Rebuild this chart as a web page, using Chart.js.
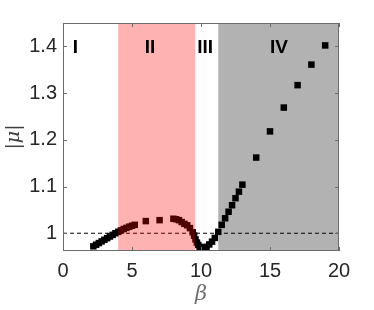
<!DOCTYPE html>
<html>
<head>
<meta charset="utf-8">
<script src="https://cdn.jsdelivr.net/npm/chart.js@4"></script>
<style>
  body { margin: 0; background: #fff; }
  canvas { display: block; }
</style>
</head>
<body>
<canvas id="myChart" width="374" height="310"></canvas>
<script>
// beta values and |mu|
let betaVals = [2.2, 2.4, 2.6, 2.8, 3.0, 3.2, 3.4, 3.6, 3.8, 4.0, 4.2, 4.4, 4.6, 4.8, 5.0, 5.2,
  6, 7, 8.0, 8.2, 8.4, 8.6, 8.8, 9.0, 9.2, 9.4, 9.5, 9.6, 9.7, 9.8, 9.9, 10.0, 10.2, 10.4,
  10.6, 10.8, 11.0, 11.25, 11.5, 11.75, 12, 12.25, 12.5, 12.75, 13, 14, 15, 16, 17, 18, 19];
let muVals = [0.972, 0.9755, 0.979, 0.9825, 0.986, 0.9895, 0.993, 0.9965, 1.0, 1.003, 1.006, 1.009, 1.0115, 1.014, 1.016, 1.018,
  1.026, 1.028, 1.031, 1.030, 1.028, 1.024, 1.020, 1.017, 1.011, 1.002, 0.995, 0.987, 0.98, 0.975, 0.971, 0.969, 0.968, 0.971,
  0.976, 0.982, 0.99, 1.003, 1.018, 1.032, 1.046, 1.06, 1.075, 1.089, 1.104, 1.162, 1.218, 1.269, 1.317, 1.361, 1.402];

// regions I..IV
let regionNames = ["I", "II", "III", "IV"];
let regionEdges = [0, 4, 9.57, 11.25, 20];
let regionLabelX = [0.9, 6.3, 10.3, 15.65];
let regionLabelY = 1.397;

let xTicks = [0, 5, 10, 15, 20];
let yTicks = [1, 1.1, 1.2, 1.3, 1.4];
let refLevel = 1;

let regionFill = [null, "rgba(255,0,0,0.3)", null, "rgba(0,0,0,0.3)"];
let axisColor = "#6b6b6b";

let points = betaVals.map((b, i) => ({ x: b, y: muVals[i] }));

const overlay = {
  id: "overlay",
  afterDatasetsDraw(chart) {
    const ctx = chart.ctx;
    const xs = chart.scales.x, ys = chart.scales.y;
    const a = chart.chartArea;
    ctx.save();
    // shaded regions drawn over the markers (tints them)
    for (let i = 0; i < regionNames.length; i++) {
      if (!regionFill[i]) continue;
      const x0 = xs.getPixelForValue(regionEdges[i]);
      const x1 = xs.getPixelForValue(regionEdges[i + 1]);
      ctx.fillStyle = regionFill[i];
      ctx.fillRect(x0, a.top, x1 - x0, a.bottom - a.top);
    }
    // box and inward ticks
    ctx.strokeStyle = axisColor;
    ctx.lineWidth = 1;
    ctx.strokeRect(a.left + 0.5, a.top + 0.5, a.right - a.left - 1, a.bottom - a.top - 1);
    ctx.beginPath();
    xTicks.forEach(t => {
      const px = Math.round(xs.getPixelForValue(t)) + 0.5;
      ctx.moveTo(px, a.bottom); ctx.lineTo(px, a.bottom - 4);
      ctx.moveTo(px, a.top); ctx.lineTo(px, a.top + 4);
    });
    yTicks.forEach(t => {
      const py = Math.round(ys.getPixelForValue(t)) + 0.5;
      ctx.moveTo(a.left, py); ctx.lineTo(a.left + 4, py);
      ctx.moveTo(a.right, py); ctx.lineTo(a.right - 4, py);
    });
    ctx.stroke();
    // region labels
    ctx.fillStyle = "#000";
    ctx.font = "bold 19px 'Liberation Sans', Arial, sans-serif";
    ctx.textAlign = "center";
    ctx.textBaseline = "middle";
    regionNames.forEach((n, i) => {
      ctx.fillText(n, xs.getPixelForValue(regionLabelX[i]), ys.getPixelForValue(regionLabelY));
    });
    ctx.restore();
  }
};

let chart = new Chart("myChart", {
  type: "scatter",
  data: {
    datasets: [{
      data: points,
      pointStyle: "rect",
      pointRadius: 4.6,
      pointBorderWidth: 0,
      backgroundColor: "#000",
      borderColor: "#000"
    },
    {
      type: "line",
      data: [{ x: 0, y: refLevel }, { x: 20, y: refLevel }],
      borderColor: "#000",
      borderWidth: 1,
      borderDash: [4, 3],
      pointRadius: 0,
      fill: false
    }]
  },
  options: {
    responsive: false,
    animation: false,
    layout: { padding: { left: 0, right: 35, top: 23, bottom: 0 } },
    plugins: { legend: { display: false }, tooltip: { enabled: false } },
    scales: {
      x: {
        type: "linear",
        min: 0, max: 20,
        afterBuildTicks: s => { s.ticks = xTicks.map(v => ({ value: v })); },
        afterFit: s => { s.height = 59; },
        grid: { display: false, drawTicks: false },
        border: { display: false },
        ticks: {
          padding: 8,
          color: "#262626",
          font: { family: "'Liberation Sans', Arial, sans-serif", size: 20 },
          maxRotation: 0
        },
        title: {
          display: true,
          text: "β",
          color: "#707070",
          font: { family: "'DejaVu Serif', serif", style: "italic", size: 21 },
          padding: { top: 0, bottom: 3 }
        }
      },
      y: {
        type: "linear",
        min: 0.962, max: 1.45,
        afterBuildTicks: s => { s.ticks = yTicks.map(v => ({ value: v })); },
        afterFit: s => { s.width = 63; },
        grid: { display: false, drawTicks: false },
        border: { display: false },
        ticks: {
          padding: 6,
          color: "#262626",
          font: { family: "'Liberation Sans', Arial, sans-serif", size: 20 },
          callback: v => v === 1 ? "1" : v.toFixed(1)
        },
        title: {
          display: true,
          text: "|μ|",
          color: "#404040",
          font: { family: "'DejaVu Serif', serif", style: "italic", size: 19 },
          padding: { top: 3, bottom: 0 }
        }
      }
    }
  },
  plugins: [overlay]
});
</script>
</body>
</html>
